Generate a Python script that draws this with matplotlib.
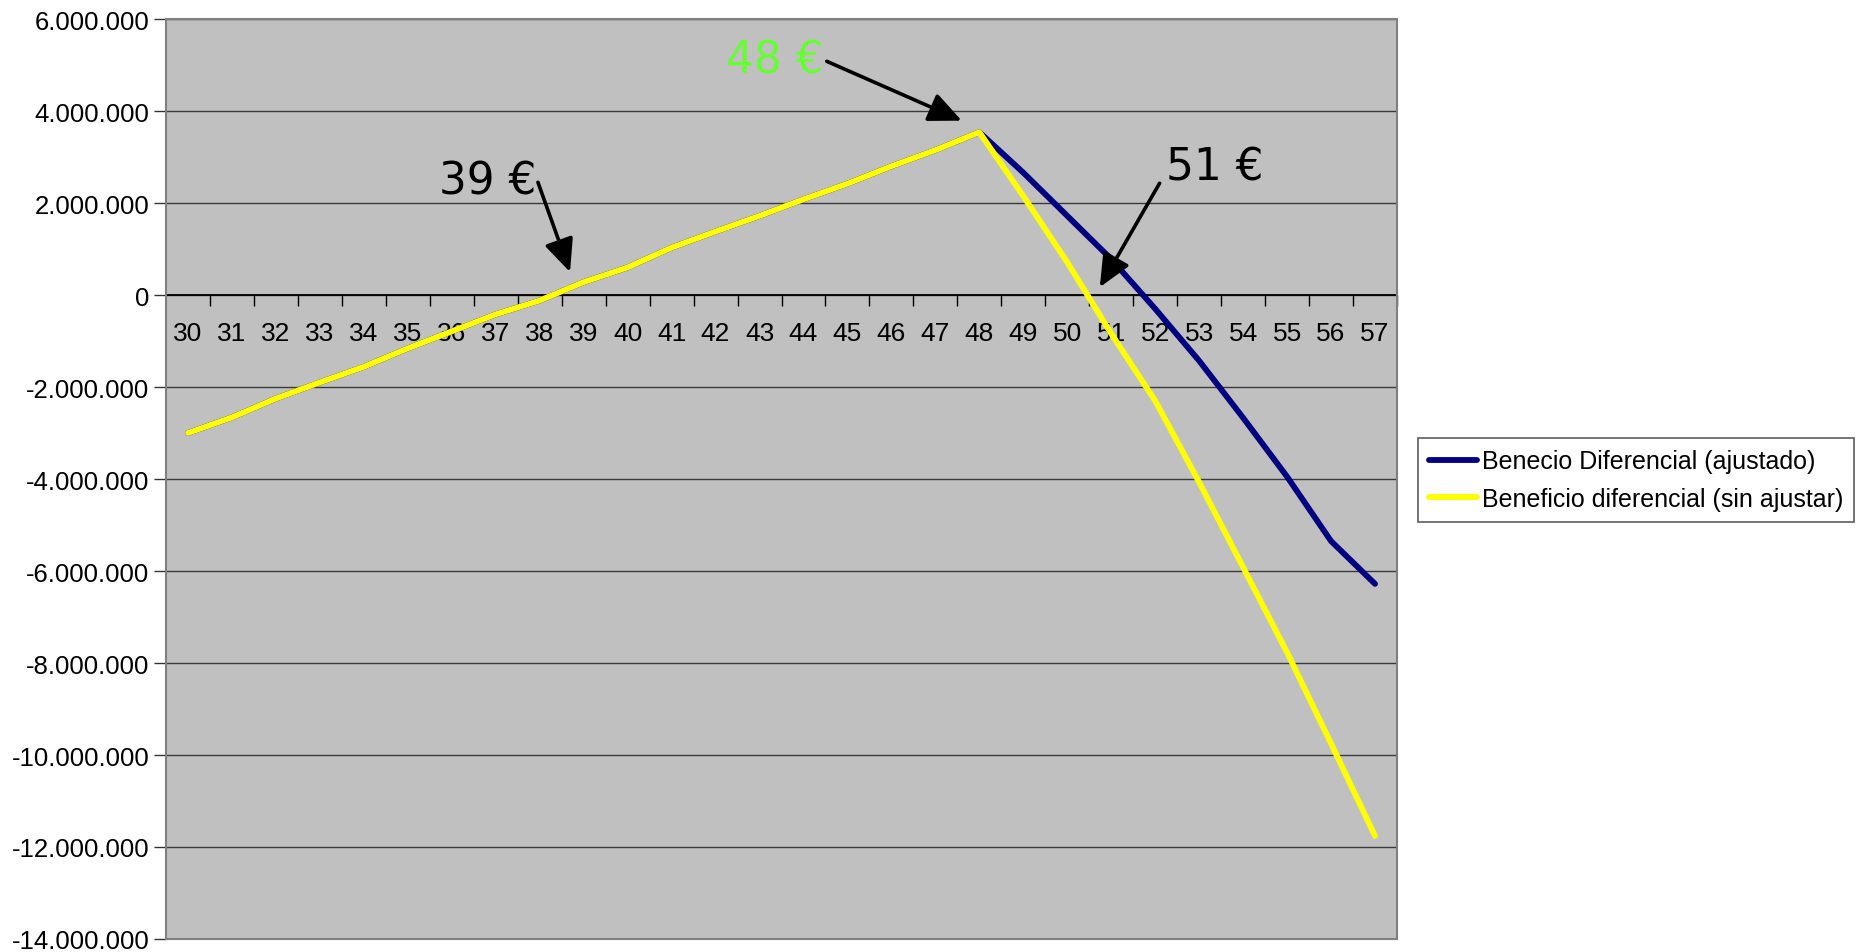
import matplotlib
matplotlib.use('Agg')
import matplotlib.pyplot as plt
from matplotlib.ticker import FuncFormatter, FixedLocator
from matplotlib.patches import Rectangle

# precio (EUR) en el eje x
precios = list(range(30, 58))

# beneficio diferencial sin ajustar
sin_ajustar = [-3.00e6, -2.66e6, -2.25e6, -1.90e6, -1.56e6, -1.16e6, -0.79e6,
               -0.42e6, -0.12e6, 0.28e6, 0.60e6, 1.03e6, 1.38e6, 1.72e6,
               2.08e6, 2.42e6, 2.80e6, 3.15e6, 3.54e6, 2.15e6, 0.71e6,
               -0.84e6, -2.30e6, -4.07e6, -5.92e6, -7.77e6, -9.75e6, -11.76e6]

# beneficio diferencial ajustado (igual hasta 48)
ajustado = sin_ajustar[:19] + [2.66e6, 1.72e6, 0.78e6, -0.30e6, -1.43e6,
                               -2.67e6, -3.95e6, -5.35e6, -6.28e6]

series_labels = ['Benecio Diferencial (ajustado)',
                 'Beneficio diferencial (sin ajustar)']

y_ticks = list(range(-14000000, 6000001, 2000000))

tick_font = 'Liberation Sans'

fig = plt.figure(figsize=(18.59, 9.53), dpi=100)
ax = fig.add_axes([166 / 1859, 1 - 940 / 953, 1231 / 1859, 920 / 953])
ax.set_facecolor('#C0C0C0')

l1, = ax.plot(precios, ajustado, color='#000080', lw=4.2,
              solid_capstyle='round', solid_joinstyle='round', zorder=3)
l2, = ax.plot(precios, sin_ajustar, color='#FFFF00', lw=4.2,
              solid_capstyle='round', solid_joinstyle='round', zorder=4)

ax.set_xlim(29.5, 57.5)
ax.set_ylim(-14000000, 6000000)

# y axis
ax.set_yticks(y_ticks)
ax.yaxis.set_major_formatter(
    FuncFormatter(lambda v, p: f'{v:,.0f}'.replace(',', '.')))
ax.yaxis.grid(True, color='#3a3a3a', lw=1.0)
ax.set_axisbelow(True)
ax.tick_params(axis='y', direction='out', length=9, width=1, pad=3,
               labelsize=18.5, color='#333333')

# x axis sits at zero, ticks between categories
ax.spines['bottom'].set_position(('data', 0))
ax.spines['bottom'].set_color('black')
ax.spines['bottom'].set_linewidth(1.3)
ax.xaxis.set_major_locator(FixedLocator(precios))
ax.set_xticklabels([str(p) for p in precios])
ax.xaxis.set_minor_locator(FixedLocator([p + 0.5 for p in precios]))
ax.tick_params(axis='x', which='major', length=0, pad=19, labelsize=19)
ax.tick_params(axis='x', which='minor', direction='out', length=8, width=1,
               color='black')

for lab in ax.get_xticklabels() + ax.get_yticklabels():
    lab.set_fontfamily(tick_font)

ax.spines['left'].set_color('#333333')
ax.spines['left'].set_linewidth(1.3)
ax.spines['top'].set_visible(False)
ax.spines['right'].set_visible(False)
ax.add_patch(Rectangle((0, 0), 1, 1, transform=ax.transAxes, fill=False,
                       edgecolor='#808080', lw=1.5, clip_on=False, zorder=5))

# annotations
arrow = dict(arrowstyle='-|>,head_length=1.0,head_width=0.45',
             mutation_scale=20, color='black', lw=2.6,
             shrinkA=0, shrinkB=0)
notas = [('39 €', 'black', (35.71, 2.2e6), (37.96, 2.45e6), (38.69, 0.50e6)),
         ('48 €', '#66FF33', (42.24, 4.83e6), (44.53, 5.08e6), (47.6, 3.79e6)),
         ('51 €', 'black', (52.24, 2.52e6), (52.10, 2.43e6), (50.74, 0.17e6))]
for texto, color, pos, cola, punta in notas:
    ax.text(pos[0], pos[1], texto, color=color, fontsize=31.5,
            family='DejaVu Sans', ha='left', va='baseline', zorder=6)
    ax.annotate('', xy=punta, xytext=cola, arrowprops=arrow, zorder=6)

leg = fig.legend([l1, l2], series_labels, loc='upper left',
                 bbox_to_anchor=(1418 / 1859, 1 - 439 / 953),
                 prop={'family': tick_font, 'size': 18},
                 frameon=True, fancybox=False, borderaxespad=0,
                 borderpad=0.45, handlelength=1.9, handletextpad=0.2,
                 labelspacing=0.55)
leg.get_frame().set_edgecolor('#333333')
leg.get_frame().set_linewidth(1.2)
for h in leg.get_lines():
    h.set_linewidth(4.2)

fig.savefig('out.png', dpi=100, facecolor='white')
